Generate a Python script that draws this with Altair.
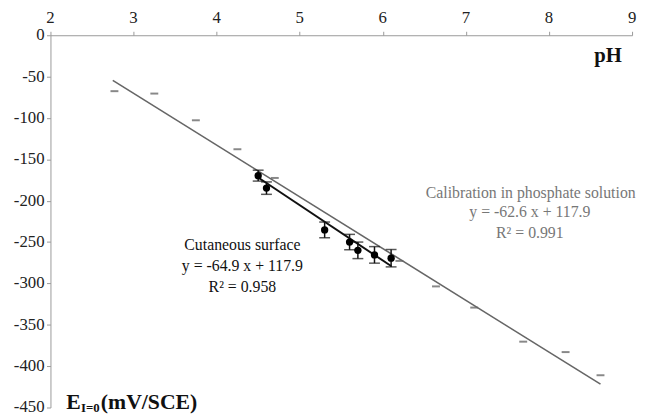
import altair as alt
import pandas as pd

# Calibration in phosphate solution (dash markers)
phos_x = [2.77, 3.25, 3.75, 4.25, 4.70, 6.20, 6.64, 7.10, 7.69, 8.20, 8.62]
phos_y = [-67.6, -70.5, -102.8, -137.8, -172.5, -272.8, -303.6, -329.2, -370.4, -383.0, -411.0]

# Regression line endpoints (phosphate)
phos_line_x = [2.75, 8.62]
phos_line_y = [-54.5, -421.8]

# Cutaneous surface measurements
cut_x = [4.50, 4.60, 5.30, 5.60, 5.70, 5.90, 6.10]
cut_y = [-169.7, -184.8, -235.3, -250.0, -260.0, -265.5, -269.5]
cut_err = [6.6, 7.5, 9.5, 9.3, 10.0, 10.0, 10.5]

# Regression line endpoints (cutaneous)
cut_line_x = [4.50, 6.10]
cut_line_y = [-172.0, -279.0]

x_ticks = [2, 3, 4, 5, 6, 7, 8, 9]
y_ticks = [0, -50, -100, -150, -200, -250, -300, -350, -400, -450]

FONT = "Liberation Serif"

phos = pd.DataFrame({"x": phos_x, "y": phos_y})
phos_line = pd.DataFrame({"x": phos_line_x, "y": phos_line_y})
cut = pd.DataFrame({"x": cut_x, "y": cut_y, "e": cut_err})
cut["lo"] = cut["y"] - cut["e"]
cut["hi"] = cut["y"] + cut["e"]
cut_line = pd.DataFrame({"x": cut_line_x, "y": cut_line_y})
xt = pd.DataFrame({"x": x_ticks, "t": [str(v) for v in x_ticks]})
yt = pd.DataFrame({"y": y_ticks, "t": [str(v) for v in y_ticks]})

xs = alt.Scale(domain=[2, 9], nice=False, zero=False)
ys = alt.Scale(domain=[-450, 0], nice=False, zero=False)

common = dict(title=None, grid=False, tickSize=4, labels=False,
              domainColor="#999", tickColor="#999")
xax = alt.Axis(orient="top", values=x_ticks, **common)
yax = alt.Axis(values=y_ticks, **common)

X = alt.X("x:Q", scale=xs, axis=xax)
Y = alt.Y("y:Q", scale=ys, axis=yax)

dashes = alt.Chart(phos).mark_tick(orient="horizontal", size=8, thickness=2, color="#555").encode(
    x=X, y=Y)

pline = alt.Chart(phos_line).mark_line(color="#666", strokeWidth=1.6).encode(x=X, y=Y)

cline = alt.Chart(cut_line).mark_line(color="#111", strokeWidth=2).encode(x=X, y=Y)

err = alt.Chart(cut).mark_rule(color="#111", strokeWidth=1.5).encode(
    x=X, y=alt.Y("lo:Q", scale=ys, axis=yax), y2="hi:Q")
cap_lo = alt.Chart(cut).mark_tick(orient="horizontal", size=11, thickness=1.5, color="#111").encode(
    x=X, y=alt.Y("lo:Q", scale=ys, axis=yax))
cap_hi = alt.Chart(cut).mark_tick(orient="horizontal", size=11, thickness=1.5, color="#111").encode(
    x=X, y=alt.Y("hi:Q", scale=ys, axis=yax))
pts = alt.Chart(cut).mark_point(filled=True, size=55, color="#000", opacity=1).encode(x=X, y=Y)

# tick labels (serif, like the reference)
xlab = alt.Chart(xt).mark_text(font=FONT, fontSize=17, align="center", baseline="bottom",
                               color="#222").encode(x=X, y=alt.value(-8), text="t:N")
ylab = alt.Chart(yt).mark_text(font=FONT, fontSize=17, align="right", baseline="middle",
                               color="#222").encode(y=Y, x=alt.value(-6), text="t:N")

labels = pd.DataFrame({
    "x": [4.31, 4.31, 4.31, 7.78, 7.77, 7.77],
    "y": [-254, -279, -305, -190.4, -213.4, -239.3],
    "t": ["Cutaneous surface", "y = -64.9 x + 117.9", "R\u00b2 = 0.958",
          "Calibration in phosphate solution", "y = -62.6 x + 117.9", "R\u00b2 = 0.991"],
    "c": ["#111", "#111", "#111", "#777", "#777", "#777"],
})
txt = alt.Chart(labels).mark_text(font=FONT, fontSize=16, align="center", baseline="middle").encode(
    x=X, y=Y, text="t:N", color=alt.Color("c:N", scale=None))

ph = alt.Chart(pd.DataFrame({"x": [8.71], "y": [-24.6], "t": ["pH"]})).mark_text(
    font=FONT, fontSize=21, fontWeight="bold", align="center", baseline="middle", color="#111").encode(
    x=X, y=Y, text="t:N")

ey = pd.DataFrame({"x": [2.19], "y": [-443.0]})
e1 = alt.Chart(ey).mark_text(font=FONT, fontSize=22, fontWeight="bold", align="left",
                             baseline="middle", color="#111", text="E").encode(x=X, y=Y)
e2 = alt.Chart(ey).mark_text(font=FONT, fontSize=13, fontWeight="bold", align="left",
                             baseline="middle", color="#111", text="I=0", dx=15, dy=6).encode(x=X, y=Y)
e3 = alt.Chart(ey).mark_text(font=FONT, fontSize=22, fontWeight="bold", align="left",
                             baseline="middle", color="#111", text="(mV/SCE)", dx=35).encode(x=X, y=Y)

chart = alt.layer(dashes, pline, cline, err, cap_lo, cap_hi, pts, xlab, ylab, txt, ph, e1, e2, e3).properties(
    width=589, height=377,
    background="white",
    autosize=alt.AutoSizeParams(type="none"),
    padding={"left": 43, "top": 25, "right": 5, "bottom": 6},
).configure_view(stroke=None)

chart.save("out.html", embed_options={"renderer": "svg", "actions": False})
